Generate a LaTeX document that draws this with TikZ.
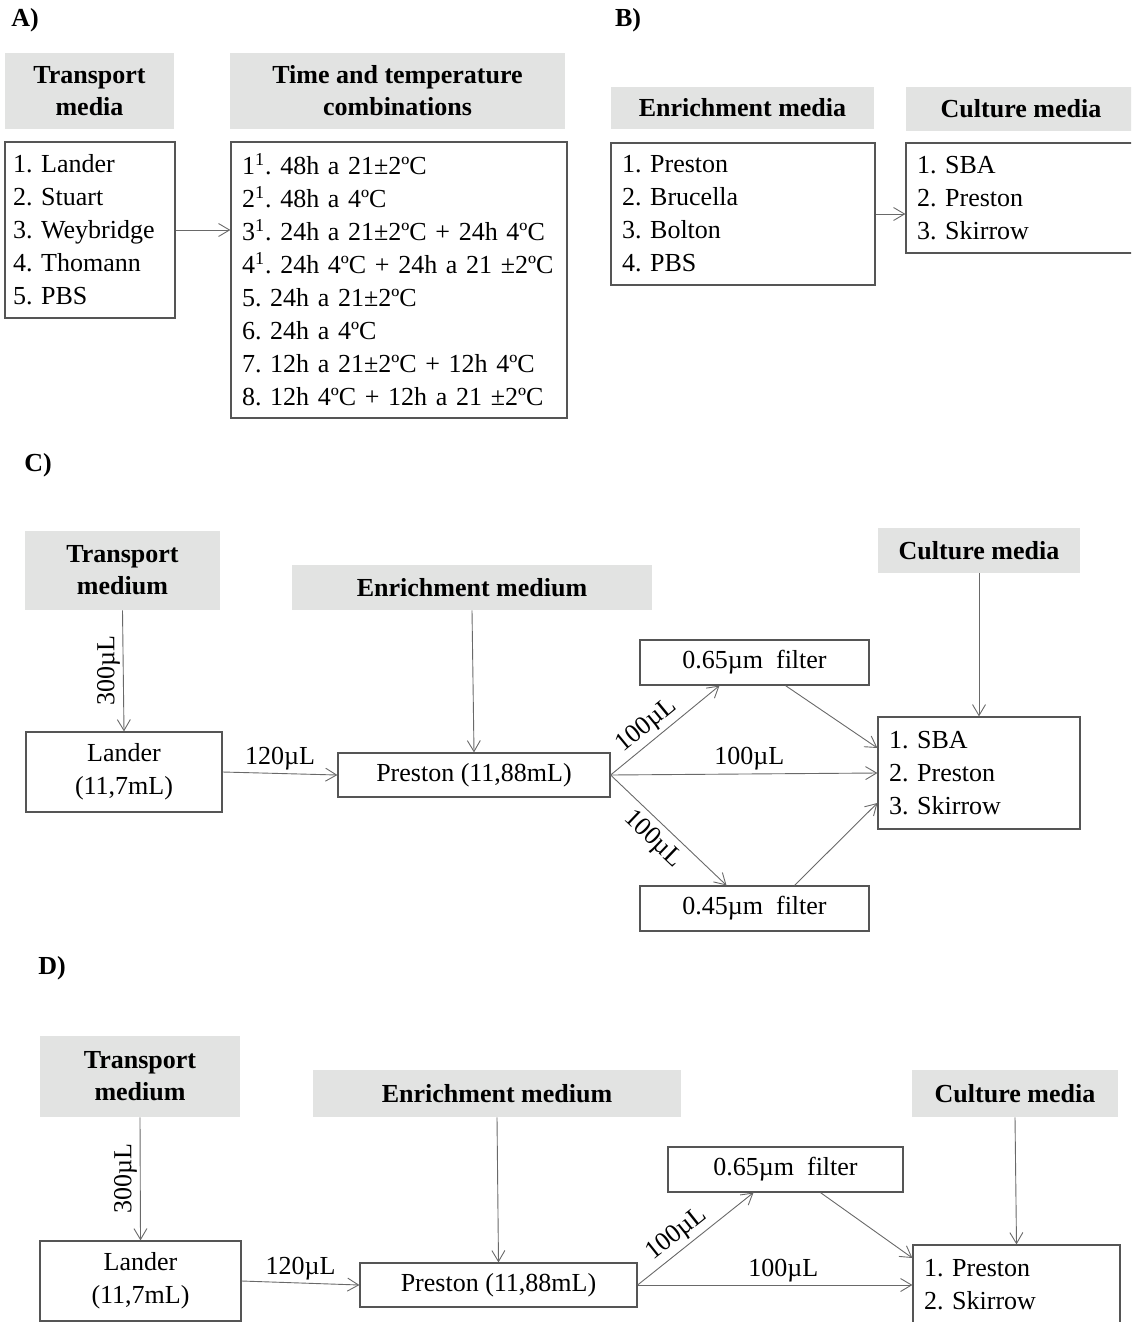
\documentclass[tikz,border=0pt]{standalone}
\usepackage{fontspec}
\setmainfont{Liberation Serif}
\usetikzlibrary{arrows.meta, positioning, calc}
\definecolor{hdrgray}{RGB}{226,227,226}
\definecolor{boxgray}{RGB}{85,85,85}
\definecolor{arrgray}{RGB}{105,105,105}
\frenchspacing

\begin{document}
\begin{tikzpicture}[
      x=0.5pt, y=-0.5pt,
      font          = \fontsize{13}{16.5}\selectfont,
      hdr/.style    = {fill=hdrgray, align=center, inner sep=0pt,
                       font=\fontsize{13}{16}\selectfont\bfseries},
      box/.style    = {draw=boxgray, line width=0.6pt, align=center, inner sep=0pt},
      lst/.style    = {box, align=left, inner xsep=5.5pt},
      flow/.style   = {-{Straight Barb[length=5.5pt,width=6.5pt]}, draw=arrgray, line width=0.45pt},
      tag/.style    = {font=\fontsize{13}{16}\selectfont\bfseries},
      vol/.style    = {inner sep=1.5pt}
    ]
    \useasboundingbox (0,0) rectangle (1131,1322);
    \clip (0,0) rectangle (1131,1322);

    % Panel A
    \node[tag] (tagA) at (25,20) {A)};
    \node[hdr, minimum width=84.5pt, minimum height=38pt] (hdrTrA) at (89.5,91) {Transport\\media};
    \node[hdr, minimum width=167.5pt, minimum height=38pt] (hdrTiA) at (397.5,91) {Time and temperature\\combinations};
    \node[lst, inner xsep=4pt, text width=77pt, minimum height=88pt] (lstTrA) at (90,230)
      {1. Lander\\2. Stuart\\3. Weybridge\\4. Thomann\\5. PBS};
    \node[lst, text width=157pt, minimum height=138pt] (lstTiA) at (399,280)
      {1\textsuperscript{1}. 48h a 21±2ºC\\
       2\textsuperscript{1}. 48h a 4ºC\\
       3\textsuperscript{1}. 24h a 21±2ºC + 24h 4ºC\\
       4\textsuperscript{1}. 24h 4ºC + 24h a 21 ±2ºC\\
       5. 24h a 21±2ºC\\
       6. 24h a 4ºC\\
       7. 12h a 21±2ºC + 12h 4ºC\\
       8. 12h 4ºC + 12h a 21 ±2ºC};
    \draw[flow] (lstTrA.east) -- (lstTrA.east -| lstTiA.west);

    % Panel B
    \node[tag] (tagB) at (628,20) {B)};
    \node[hdr, minimum width=131.5pt, minimum height=21pt] (hdrEnB) at (742.5,108) {Enrichment media};
    \node[hdr, minimum width=115pt, minimum height=22pt] (hdrCuB) at (1021,109) {Culture media};
    \node[lst, text width=121pt, minimum height=71pt] (lstEnB) at (743,214)
      {1. Preston\\2. Brucella\\3. Bolton\\4. PBS};
    \node[lst, text width=106pt, minimum height=55pt] (lstCuB) at (1023,198)
      {1. SBA\\2. Preston\\3. Skirrow};
    \draw[flow] (lstEnB.east) -- (lstEnB.east -| lstCuB.west);

    % Panel C
    \node[tag] (tagC) at (38,465) {C)};
    \node[hdr, minimum width=97.5pt, minimum height=39.5pt] (hdrTrC) at (122.5,570.5) {Transport\\medium};
    \node[hdr, minimum width=180pt, minimum height=22.5pt] (hdrEnC) at (472,587.5) {Enrichment medium};
    \node[hdr, minimum width=101pt, minimum height=22.5pt] (hdrCuC) at (979,550.5) {Culture media};
    \node[box, minimum width=98pt, minimum height=40pt] (landC) at (124,772) {Lander\\(11,7mL)};
    \node[box, minimum width=136pt, minimum height=22pt] (presC) at (474,775) {Preston (11,88mL)};
    \node[box, minimum width=114.5pt, minimum height=22.5pt] (f65C) at (754.5,662.5) {0.65µm\ \ filter};
    \node[box, minimum width=114.5pt, minimum height=22.5pt] (f45C) at (754.5,908.5) {0.45µm\ \ filter};
    \node[lst, text width=90pt, minimum height=56pt] (cultC) at (979,773)
      {1. SBA\\2. Preston\\3. Skirrow};

    \draw[flow] (hdrTrC.south) -- node[vol, rotate=90, anchor=south] {300µL} (landC.north);
    \draw[flow] (hdrEnC.south) -- (presC.north);
    \draw[flow] (hdrCuC.south) -- (cultC.north);
    \draw[flow] (landC.east) -- node[vol, above] {120µL} (presC.west);
    \draw[flow] (presC.east) -- node[vol, pos=0.42, sloped, above] {100µL} ($(f65C.south)+(-35,0)$);
    \draw[flow] (presC.east) -- node[vol, pos=0.52, above] {100µL} (cultC.west);
    \draw[flow] (presC.east) -- node[vol, inner sep=3pt, pos=0.47, sloped, below] {100µL} ($(f45C.north)+(-28,0)$);
    \draw[flow] ($(f65C.south)+(31,0)$) -- ($(cultC.west)+(0,-25)$);
    \draw[flow] ($(f45C.north)+(40,0)$) -- ($(cultC.west)+(0,30)$);

    % Panel D
    \node[tag] (tagD) at (52,968) {D)};
    \node[hdr, minimum width=100pt, minimum height=40.5pt] (hdrTrD) at (140,1076.5) {Transport\\medium};
    \node[hdr, minimum width=184pt, minimum height=23.5pt] (hdrEnD) at (497,1093.5) {Enrichment medium};
    \node[hdr, minimum width=103pt, minimum height=23.5pt] (hdrCuD) at (1015,1093.5) {Culture media};
    \node[box, minimum width=100.5pt, minimum height=40pt] (landD) at (140.5,1281) {Lander\\(11,7mL)};
    \node[box, minimum width=138.5pt, minimum height=22pt] (presD) at (498.5,1285) {Preston (11,88mL)};
    \node[box, minimum width=117.5pt, minimum height=22.5pt] (f65D) at (785.5,1169.5) {0.65µm\ \ filter};
    \node[lst, text width=92.5pt, minimum height=40pt] (cultD) at (1016.5,1285)
      {1. Preston\\2. Skirrow};

    \draw[flow] (hdrTrD.south) -- node[vol, rotate=90, anchor=south] {300µL} (landD.north);
    \draw[flow] (hdrEnD.south) -- (presD.north);
    \draw[flow] (hdrCuD.south) -- (cultD.north);
    \draw[flow] (landD.east) -- node[vol, above] {120µL} (presD.west);
    \draw[flow] (presD.east) -- node[vol, pos=0.42, sloped, above] {100µL} ($(f65D.south)+(-32,0)$);
    \draw[flow] (presD.east) -- node[vol, pos=0.53, above] {100µL} (cultD.west);
    \draw[flow] ($(f65D.south)+(35,0)$) -- ($(cultD.west)+(0,-27)$);

  \end{tikzpicture}
\end{document}
